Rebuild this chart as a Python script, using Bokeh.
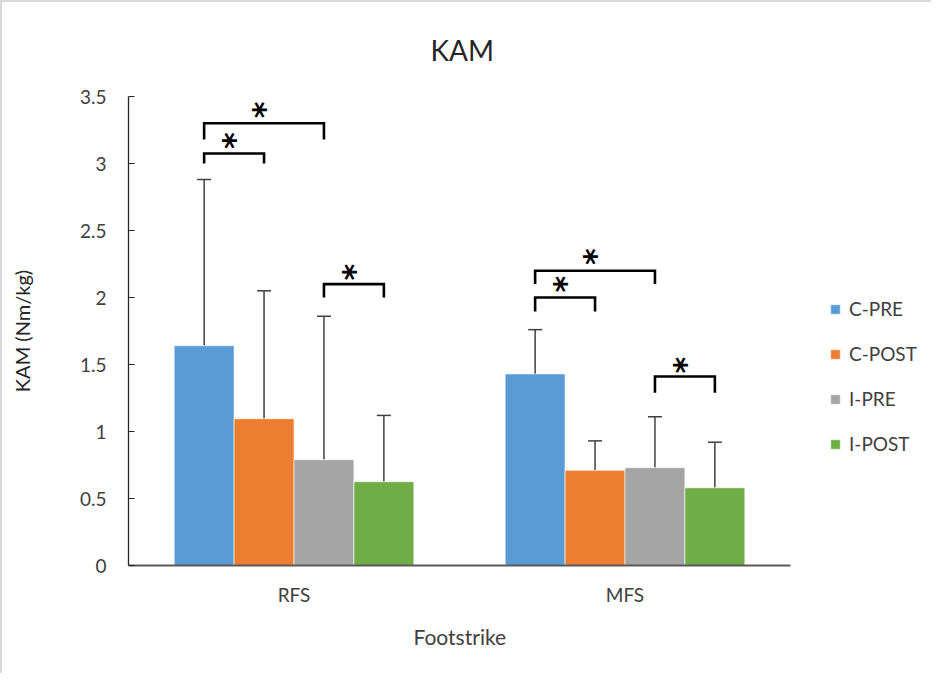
from bokeh.plotting import figure
from bokeh.models import (ColumnDataSource, Range1d, FixedTicker, Whisker, TeeHead,
                          Legend, LegendItem, Title)
from bokeh.core.properties import value
from bokeh.embed import file_html
from bokeh.resources import INLINE
import math

# ---------------- data ----------------
groups = ["RFS", "MFS"]
series = ["C-PRE", "C-POST", "I-PRE", "I-POST"]
colors = ["#5B9BD5", "#ED7D31", "#A5A5A5", "#70AD47"]
means = {
    "C-PRE":  [1.64, 1.43],
    "C-POST": [1.095, 0.71],
    "I-PRE":  [0.79, 0.73],
    "I-POST": [0.625, 0.58],
}
sd_upper = {  # top of the error bar
    "C-PRE":  [2.88, 1.76],
    "C-POST": [2.05, 0.93],
    "I-PRE":  [1.86, 1.11],
    "I-POST": [1.12, 0.92],
}
y_ticks = [0, 0.5, 1, 1.5, 2, 2.5, 3, 3.5]
y_tick_labels = ["0", "0.5", "1", "1.5", "2", "2.5", "3", "3.5"]

# significance brackets: group index, from series, to series, bar level, leg bottom, star level
br_group = [0, 0, 0, 1, 1, 1]
br_from = [0, 0, 2, 0, 0, 2]
br_to = [1, 2, 3, 1, 2, 3]
br_top = [3.075, 3.30, 2.10, 2.00, 2.20, 1.41]
br_leg = [3.00, 3.18, 2.00, 1.895, 2.10, 1.29]
br_star = [3.17, 3.40, 2.19, 2.10, 2.305, 1.495]

# ---------------- figure ----------------
W, H = 931, 673
LEFT = 126
PLOT_W = 662          # pixel width of the two category slots
FRAME_W = W - LEFT    # frame extends to the right edge so the legend is inside it
x_end = 2 * FRAME_W / PLOT_W

p = figure(width=W, height=H, output_backend="svg", toolbar_location=None,
           x_range=Range1d(0, x_end), y_range=Range1d(0, 3.5),
           min_border_left=LEFT, min_border_right=0, min_border_top=94,
           min_border_bottom=110)
p.styles = {"border-top": "2px solid #d9d9d9", "border-left": "2px solid #d9d9d9"}
p.outline_line_color = None
p.xgrid.grid_line_color = None
p.ygrid.grid_line_color = None
p.background_fill_color = "white"
p.border_fill_color = "white"

FONT = "Lato"
TXT = "#404040"

bar_w = 0.181
centers = [0.5 + i for i in range(len(groups))]

def xpos(g, s):
    return centers[g] + (s - 1.5) * bar_w

items = []
for si, s in enumerate(series):
    xs = [xpos(g, si) for g in range(len(groups))]
    src = ColumnDataSource(dict(x=xs, top=means[s], upper=sd_upper[s]))
    r = p.vbar(x="x", top="top", width=bar_w, bottom=0, source=src,
               fill_color=colors[si], line_color="white", line_width=0.6)
    items.append(LegendItem(label=s, renderers=[r]))
    wh = Whisker(base="x", upper="upper", lower="top", source=src, dimension="height",
                 line_color="#404040", line_width=1.5,
                 upper_head=TeeHead(size=14, line_color="#404040", line_width=1.5),
                 lower_head=None)
    p.add_layout(wh)

# brackets
bx, by = [], []
sx, sy = [], []
for k in range(len(br_group)):
    x0 = xpos(br_group[k], br_from[k])
    x1 = xpos(br_group[k], br_to[k])
    bx.append([x0, x0, x1, x1])
    by.append([br_leg[k], br_top[k], br_top[k], br_leg[k]])
    sx.append((x0 + x1) / 2)
    sy.append(br_star[k])
p.multi_line(xs=bx, ys=by, line_color="black", line_width=2.6, line_join="miter")
p.text(x=sx, y=sy, text=["*"] * len(sx), text_font=value("DejaVu Sans"),
       text_font_style="bold", text_font_size="32px", text_color="black",
       text_align="center", text_baseline="middle", angle=math.pi / 2)

# axes
xa = p.xaxis[0]
xa.bounds = (0, 2)
xa.ticker = FixedTicker(ticks=centers)
xa.major_label_overrides = {c: g for c, g in zip(centers, groups)}
xa.major_tick_line_color = None
xa.minor_tick_line_color = None
xa.axis_line_color = "#595959"
xa.axis_line_width = 2
xa.major_label_text_font = FONT
xa.major_label_text_font_size = "19px"
xa.major_label_text_color = TXT
xa.major_label_standoff = 11

ya = p.yaxis[0]
ya.ticker = FixedTicker(ticks=y_ticks)
ya.major_label_overrides = {t: l for t, l in zip(y_ticks, y_tick_labels)}
ya.minor_tick_line_color = None
ya.major_tick_in = 6
ya.major_tick_out = 0
ya.axis_line_color = "#262626"
ya.major_tick_line_color = "#262626"
ya.axis_line_width = 1.3
ya.major_label_text_font = FONT
ya.major_label_text_font_size = "19px"
ya.major_label_text_color = TXT
ya.major_label_standoff = 22
ya.axis_label = "KAM (Nm/kg)"
ya.axis_label_text_font = FONT
ya.axis_label_text_font_size = "20px"
ya.axis_label_text_font_style = "normal"
ya.axis_label_text_color = "#262626"
ya.axis_label_standoff = 43

p.add_layout(Title(text="KAM", align="left", vertical_align="middle", text_font=FONT,
                   text_font_size="28px", text_font_style="normal",
                   text_color="#262626", offset=302, standoff=57), "above")
p.add_layout(Title(text="Footstrike", align="left", text_font=FONT, text_font_size="21px",
                   text_font_style="normal", text_color=TXT, offset=285,
                   standoff=26), "below")

legend = Legend(items=items, location=(701, 110), orientation="vertical",
                glyph_width=12, glyph_height=12, label_height=20, spacing=22,
                label_standoff=8, padding=0, margin=0, border_line_color=None,
                background_fill_alpha=0, label_text_font=FONT,
                label_text_font_size="19px", label_text_color=TXT)
p.add_layout(legend, "center")

open("out.html", "w").write(file_html(p, INLINE))
